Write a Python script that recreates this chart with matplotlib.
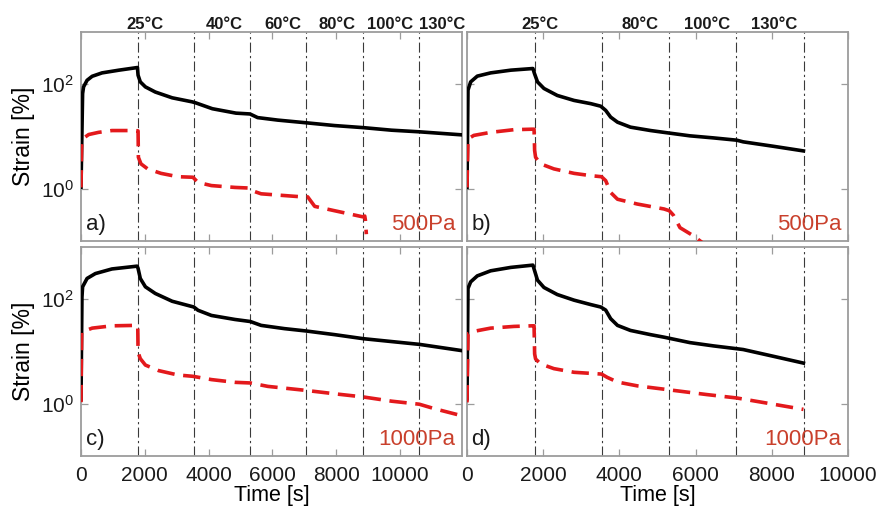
import matplotlib
matplotlib.use('Agg')
import matplotlib.pyplot as plt
from matplotlib.ticker import FixedLocator, NullLocator, FixedFormatter, NullFormatter
import matplotlib.transforms as mtransforms

plt.rcParams['font.family'] = ['Liberation Sans', 'DejaVu Sans']
plt.rcParams['mathtext.fontset'] = 'custom'
plt.rcParams['mathtext.rm'] = 'Liberation Sans'
plt.rcParams['mathtext.it'] = 'Liberation Sans:italic'
plt.rcParams['mathtext.bf'] = 'Liberation Sans:bold'
plt.rcParams['mathtext.default'] = 'regular'

# ---------------- data ----------------
steps_left = [1780, 3540, 5300, 7070, 8840, 10610]
steps_right = [1780, 3540, 5300, 7070, 8840]
temps_left = ['25°C', '40°C', '60°C', '80°C', '100°C', '130°C']
temps_right = ['25°C', '80°C', '100°C', '130°C']
temp_pos_left = [1998, 4485, 6336, 8029, 9692, 11323]
temp_pos_right = [1916, 4541, 6299, 8058]

xticks = [0, 2000, 4000, 6000, 8000, 10000]
xticklabels = ['0', '2000', '4000', '6000', '8000', '10000']
yticks = [1, 100]
yticklabels = ['$10^{0}$', '$10^{2}$']
panel_names = ['a)', 'b)', 'c)', 'd)']
stress_labels = ['500Pa', '500Pa', '1000Pa', '1000Pa']

# panel a
t_a_black = [0, 50, 80, 190, 350, 660, 1190, 1770, 1790, 1860, 2020, 2330, 2860, 3490,
             3600, 4120, 4860, 5300, 5540, 6170, 7060, 7950, 8840, 9740, 10610, 11990]
s_a_black = [1.07, 66, 89, 119, 142, 165, 186, 209, 149, 111, 89, 71, 55, 46,
             44, 34, 28, 27, 23, 20.6, 18.3, 16.2, 14.8, 13.2, 12.3, 10.7]
t_a_red = [0, 20, 50, 240, 550, 970, 1700, 1790, 1800, 1880, 2090, 2510, 3040, 3510,
           3670, 4090, 4830, 5300, 5430, 5650, 7060, 7110, 7330, 7950, 8840, 8900, 8920, 8950]
s_a_red = [1.06, 7, 9.0, 10.9, 12.0, 13.0, 13.0, 12.8, 4.0, 3.0, 2.4, 1.97, 1.70, 1.66,
           1.32, 1.15, 1.06, 1.03, 0.89, 0.80, 0.69, 0.70, 0.46, 0.38, 0.29, 0.30, 0.25, 0.135]

# panel b
t_b_black = [0, 26, 96, 270, 620, 1150, 1730, 1770, 1850, 2020, 2370, 2810, 3250, 3510,
             3640, 3770, 3950, 4290, 4820, 5170, 5850, 6470, 7080, 7250, 8040, 8830]
s_b_black = [1.06, 77, 111, 143, 165, 186, 200, 161, 111, 83, 61, 49, 42.5, 38,
             31.6, 23.5, 18.8, 15.1, 13.0, 12.0, 10.3, 9.4, 8.5, 7.9, 6.5, 5.3]
t_b_red = [0, 26, 180, 620, 1230, 1710, 1760, 1775, 1800, 1930, 2280, 2810, 3250, 3530,
           3640, 3770, 3950, 4470, 5170, 5310, 5420, 5590, 5940, 6120, 6300]
s_b_red = [1.06, 9.0, 10.5, 12.0, 13.5, 13.8, 13.8, 5.4, 4.0, 3.0, 2.4, 1.97, 1.78, 1.70,
           1.43, 0.85, 0.63, 0.51, 0.41, 0.38, 0.31, 0.18, 0.126, 0.10, 0.08]

# panel c
t_c_black = [0, 30, 50, 190, 450, 970, 1760, 1790, 1860, 2020, 2330, 2860, 3540,
             3670, 4090, 4830, 5310, 5650, 6380, 7060, 7960, 8850, 9740, 10610, 11990]
s_c_black = [1.2, 110, 173, 250, 310, 380, 430, 390, 250, 173, 129, 91.5, 71,
             61.5, 49, 41, 37.5, 31.6, 27.4, 24.7, 21, 17.6, 15.5, 13.7, 10.3]
t_c_red = [0, 20, 350, 970, 1700, 1780, 1790, 1860, 2020, 2440, 3040, 3510, 4090,
           4830, 5310, 5860, 7060, 7960, 8850, 9740, 10610, 11100, 11990]
s_c_red = [1.07, 23.5, 28, 31, 31.6, 31.2, 9.7, 7.3, 5.5, 4.3, 3.55, 3.35, 2.9,
           2.57, 2.5, 2.15, 1.8, 1.55, 1.35, 1.12, 0.98, 0.80, 0.58]

# panel d
t_d_black = [0, 26, 96, 270, 620, 1150, 1730, 1770, 1850, 2020, 2370, 2810, 3250, 3510,
             3640, 3770, 3950, 4290, 4820, 5170, 5850, 6470, 7080, 7250, 8040, 8830]
s_d_black = [1.25, 161, 215, 280, 350, 407, 450, 360, 232, 168, 123, 96, 79, 71,
             62, 42.5, 31.6, 25.3, 21, 18.8, 14.8, 12.8, 11.3, 10.9, 8.1, 6.0]
t_d_red = [0, 26, 180, 620, 1230, 1710, 1760, 1775, 1800, 1930, 2280, 2810, 3530,
           3680, 3950, 4470, 5170, 6290, 7080, 8040, 8830]
s_d_red = [1.06, 21.9, 24.3, 28, 30.2, 31, 31, 9.0, 7.2, 5.8, 4.7, 4.0, 3.7,
           3.2, 2.6, 2.2, 1.9, 1.5, 1.29, 0.98, 0.78]

# ---------------- figure ----------------
W, H = 883, 507
fig = plt.figure(figsize=(W / 100, H / 100), dpi=100)

def rect(l, t, w, h):
    return [l / W, 1 - (t + h) / H, w / W, h / H]

axes = [
    fig.add_axes(rect(81, 32, 381, 209)),
    fig.add_axes(rect(467, 32, 381, 209)),
    fig.add_axes(rect(81, 247, 381, 209)),
    fig.add_axes(rect(467, 247, 381, 209)),
]

black_data = [(t_a_black, s_a_black), (t_b_black, s_b_black),
              (t_c_black, s_c_black), (t_d_black, s_d_black)]
red_data = [(t_a_red, s_a_red), (t_b_red, s_b_red),
            (t_c_red, s_c_red), (t_d_red, s_d_red)]

frame_col = '#9c9c9c'
red_line = '#e3191c'
red_text = '#c9402c'

for i, ax in enumerate(axes):
    left = (i % 2 == 0)
    bottom = (i >= 2)
    xmax = 11950 if left else 10000
    steps = steps_left if left else steps_right

    for s in steps:
        ax.axvline(s, color='#3a3a3a', lw=0.8, ls=(0, (9, 3, 2, 3)), zorder=1)

    tb, sb = black_data[i]
    ax.plot(tb, sb, color='black', lw=2.6, solid_joinstyle='round', zorder=3)
    tr, sr = red_data[i]
    ax.plot(tr, sr, color=red_line, lw=2.6, ls=(0, (4.8, 2.4)), zorder=3)

    ax.set_yscale('log')
    ax.set_xlim(0, xmax)
    ax.set_ylim(0.1, 1000)

    ax.xaxis.set_major_locator(FixedLocator(xticks))
    ax.xaxis.set_minor_locator(NullLocator())
    ax.yaxis.set_major_locator(FixedLocator(yticks))
    ax.yaxis.set_minor_locator(NullLocator())

    if bottom:
        ax.xaxis.set_major_formatter(FixedFormatter(xticklabels))
        ax.set_xlabel('Time [s]', fontsize=15.5, labelpad=0)
    else:
        ax.xaxis.set_major_formatter(NullFormatter())
    if left:
        ax.yaxis.set_major_formatter(FixedFormatter(yticklabels))
        ax.set_ylabel('Strain [%]', fontsize=16.5, labelpad=4)
    else:
        ax.yaxis.set_major_formatter(NullFormatter())

    ax.tick_params(axis='both', which='major', direction='in', length=5, width=0.9,
                   color=frame_col, top=True, right=True, labelsize=15, pad=5,
                   labelcolor='#1a1a1a')
    ax.tick_params(axis='x', pad=7)
    for sp in ax.spines.values():
        sp.set_color(frame_col)
        sp.set_linewidth(1.3)

    ax.text(0.012, 0.03, panel_names[i], transform=ax.transAxes, fontsize=16,
            ha='left', va='bottom', color='#1a1a1a')
    ax.text(0.982, 0.03, stress_labels[i], transform=ax.transAxes, fontsize=16,
            ha='right', va='bottom', color=red_text)

    if not bottom:
        trans = mtransforms.blended_transform_factory(ax.transData, ax.transAxes)
        labels = temps_left if left else temps_right
        pos = temp_pos_left if left else temp_pos_right
        for lab, x in zip(labels, pos):
            ax.text(x, 1.012, lab, transform=trans, ha='center', va='baseline',
                    fontsize=12, fontweight='bold', color='#1a1a1a')

fig.savefig('out.png', dpi=100)
